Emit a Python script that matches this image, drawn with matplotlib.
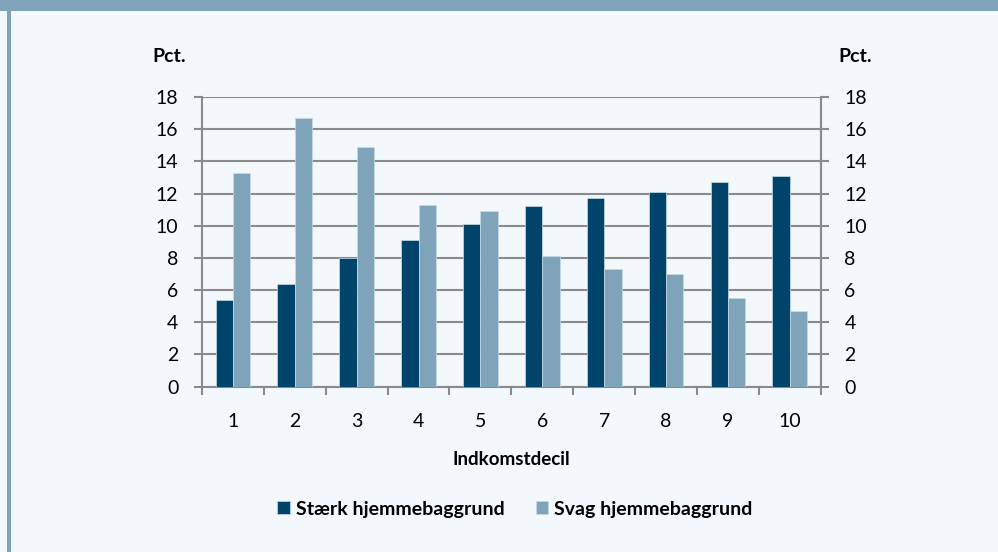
import numpy as np
import matplotlib.pyplot as plt
from matplotlib.patches import Rectangle

# Andel i hver indkomstdecil efter hjemmebaggrund (pct.)
deciles = [1, 2, 3, 4, 5, 6, 7, 8, 9, 10]
staerk = [5.4, 6.4, 8.0, 9.1, 10.1, 11.2, 11.7, 12.1, 12.7, 13.1]
svag = [13.25, 16.7, 14.9, 11.3, 10.9, 8.1, 7.3, 7.0, 5.5, 4.7]
yticks = [0, 2, 4, 6, 8, 10, 12, 14, 16, 18]

dark = '#00446c'
light = '#7fa3b8'
bg = '#f3f8fd'
grid = '#8a8a8a'

plt.rcParams['font.family'] = ['Lato', 'DejaVu Sans']

fig = plt.figure(figsize=(9.98, 5.52), dpi=100, facecolor=bg)

# ramme: bånd foroven og stribe i venstre side
fig.patches.append(Rectangle((0, 1 - 11 / 552), 1, 11 / 552, transform=fig.transFigure,
                             facecolor=light, edgecolor='none', zorder=0))
fig.patches.append(Rectangle((7 / 998, 0), 4 / 998, 1, transform=fig.transFigure,
                             facecolor=light, edgecolor='none', zorder=0))

ax = fig.add_axes([0.2024, 0.2995, 0.620, 0.5248])
ax.set_facecolor(bg)

x = np.array(deciles)
w = 0.28
ax.bar(x - w / 2, staerk, width=w, color=dark, edgecolor='#c9dbe6', linewidth=0.5,
       label='Stærk hjemmebaggrund', zorder=3)
ax.bar(x + w / 2, svag, width=w, color=light, edgecolor='#c9dbe6', linewidth=0.5,
       label='Svag hjemmebaggrund', zorder=3)

ax.set_xlim(0.5, 10.5)
ax.set_ylim(0, 18)
ax.set_yticks(yticks)
ax.set_xticks(x)
ax.set_xticklabels([str(d) for d in deciles])
ax.set_xticks(np.arange(0.5, 11, 1), minor=True)
ax.tick_params(axis='x', which='major', length=0, pad=19, labelsize=14)
ax.tick_params(axis='x', which='minor', length=6, width=1.5, color=grid, direction='out')
ax.tick_params(axis='y', length=6, width=1.5, color=grid, pad=11, labelsize=14)
ax.yaxis.grid(True, color=grid, linewidth=1.5, zorder=1)
ax.set_axisbelow(True)

ax.spines['top'].set_visible(False)
for side in ['left', 'right', 'bottom']:
    ax.spines[side].set_color(grid)
    ax.spines[side].set_linewidth(1.5)

ax2 = ax.twinx()
ax2.set_ylim(0, 18)
ax2.set_yticks(yticks)
ax2.tick_params(axis='y', length=6, width=1.5, color=grid, pad=11, labelsize=14)
for side in ['top', 'left', 'bottom']:
    ax2.spines[side].set_visible(False)
ax2.spines['right'].set_color(grid)
ax2.spines['right'].set_linewidth(1.5)

fig.text(169 / 998, 1 - 57 / 552, 'Pct.', fontsize=14, fontweight='bold',
         ha='center', va='center')
fig.text(855 / 998, 1 - 57 / 552, 'Pct.', fontsize=14, fontweight='bold',
         ha='center', va='center')

ax.set_xlabel('Indkomstdecil', fontsize=13.5, fontweight='bold', labelpad=15)

fig.legend(loc='center', bbox_to_anchor=(515 / 998, 1 - 509 / 552), ncol=2, frameon=False,
           prop={'weight': 'bold', 'size': 14},
           handlelength=0.65, handleheight=0.65, handletextpad=0.3, columnspacing=1.6)

fig.savefig('out.png', dpi=100, facecolor=bg)
